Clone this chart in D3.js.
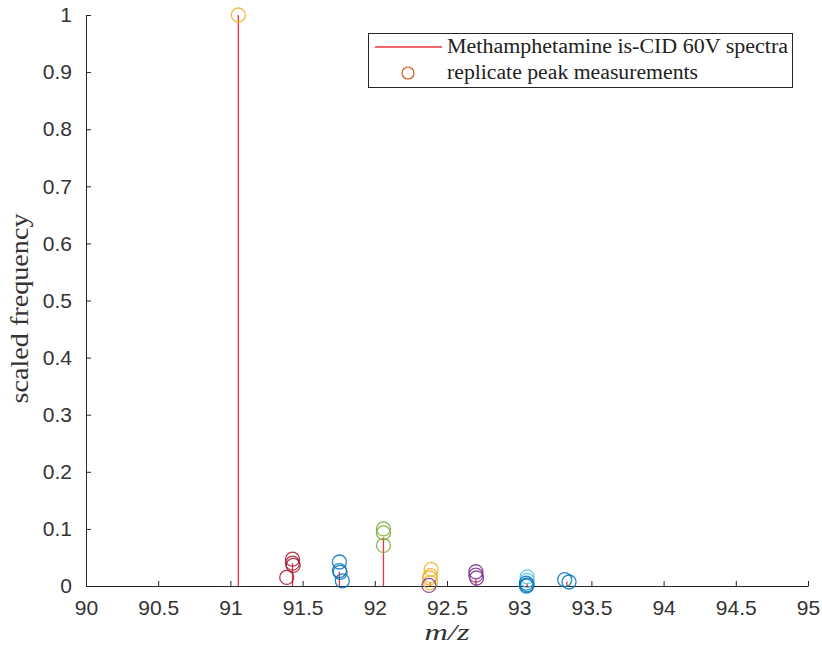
<!DOCTYPE html>
<html><head><meta charset="utf-8">
<script src="https://cdn.jsdelivr.net/npm/d3@7"></script>
<style>body{margin:0;background:#fff}svg{display:block}</style>
</head><body>
<script>
// Stem spectrum peaks
const peakMz = [91.055, 91.43, 91.755, 92.06, 92.385, 92.70, 93.055, 93.33];
const peakIntensity = [1.0, 0.04, 0.025, 0.085, 0.006, 0.012, 0.005, 0.008];

// Replicate measurements
const repMz = [91.055,
  91.43, 91.43, 91.435, 91.39,
  91.755, 91.755, 91.76, 91.775,
  92.06, 92.06, 92.06,
  92.39, 92.385, 92.38, 92.385, 92.375,
  92.70, 92.70, 92.705,
  93.055, 93.055, 93.05, 93.055, 93.05,
  93.315, 93.345];
const repIntensity = [1.0,
  0.047, 0.040, 0.036, 0.015,
  0.042, 0.027, 0.024, 0.009,
  0.100, 0.093, 0.071,
  0.029, 0.018, 0.014, 0.006, 0.001,
  0.025, 0.019, 0.014,
  0.016, 0.010, 0.005, 0.002, 0.0,
  0.011, 0.007];
const repColor = ["#EDB120",
  "#A2142F", "#A2142F", "#A2142F", "#A2142F",
  "#0072BD", "#0072BD", "#0072BD", "#0072BD",
  "#77AC30", "#77AC30", "#77AC30",
  "#EDB120", "#EDB120", "#EDB120", "#EDB120", "#7E2F8E",
  "#7E2F8E", "#7E2F8E", "#7E2F8E",
  "#4DBEEE", "#4DBEEE", "#0072BD", "#0072BD", "#0072BD",
  "#0072BD", "#0072BD"];

const xTicks = [90, 90.5, 91, 91.5, 92, 92.5, 93, 93.5, 94, 94.5, 95];
const yTicks = [0, 0.1, 0.2, 0.3, 0.4, 0.5, 0.6, 0.7, 0.8, 0.9, 1];
const legendLabels = ["Methamphetamine is-CID 60V spectra", "replicate peak measurements"];

const W = 822, H = 648;
const m = {left: 86, right: 14, top: 15, bottom: 62};
const svg = d3.select("body").append("svg").attr("width", W).attr("height", H);

const x = d3.scaleLinear().domain([90, 95]).range([m.left, W - m.right]);
const y = d3.scaleLinear().domain([0, 1]).range([H - m.bottom, m.top]);

const axisColor = "#262626";
const tickFont = "'Liberation Sans', Arial, sans-serif";

// Stems
svg.append("g").selectAll("line").data(peakMz).join("line")
  .attr("x1", d => x(d)).attr("x2", d => x(d))
  .attr("y1", y(0)).attr("y2", (d, i) => y(peakIntensity[i]))
  .attr("stroke", "#f0323c").attr("stroke-width", 1.3);

// Axes
const xAxis = svg.append("g").attr("transform", `translate(0,${y(0)})`)
  .call(d3.axisBottom(x).tickValues(xTicks).tickSize(-5).tickSizeOuter(0).tickPadding(14).tickFormat(d3.format("")));
const yAxis = svg.append("g").attr("transform", `translate(${x(90)},0)`)
  .call(d3.axisLeft(y).tickValues(yTicks).tickSize(-5).tickSizeOuter(0).tickPadding(14).tickFormat(d3.format("")));
[xAxis, yAxis].forEach(a => {
  a.select(".domain").attr("stroke", axisColor).attr("stroke-width", 1);
  a.selectAll(".tick line").attr("stroke", axisColor);
  a.selectAll(".tick text").attr("fill", "#333").style("font-family", tickFont).style("font-size", "21px");
});

// Replicate circles
svg.append("g").selectAll("circle").data(repMz).join("circle")
  .attr("cx", d => x(d)).attr("cy", (d, i) => y(repIntensity[i]))
  .attr("r", 7).attr("fill", "none")
  .attr("stroke", (d, i) => repColor[i]).attr("stroke-width", 1.3).attr("stroke-opacity", 0.85);

// Axis labels
const serif = "'Liberation Serif', 'DejaVu Serif', serif";
svg.append("text").attr("transform", `translate(28,${(y(0)+y(1))/2 + 8}) rotate(-90)`)
  .attr("text-anchor", "middle").style("font-family", serif).style("font-size", "25px")
  .attr("fill", "#333").attr("textLength", 190).attr("lengthAdjust", "spacingAndGlyphs")
  .text("scaled frequency");
svg.append("text").attr("x", x(92.5)).attr("y", 640).attr("text-anchor", "middle")
  .style("font-family", serif).style("font-size", "24px").style("font-style", "italic")
  .attr("fill", "#333").attr("textLength", 45).attr("lengthAdjust", "spacingAndGlyphs").text("m/z");

// Legend
const lg = svg.append("g");
lg.append("rect").attr("x", 368.5).attr("y", 33.5).attr("width", 424).attr("height", 54)
  .attr("fill", "#fff").attr("stroke", axisColor).attr("stroke-width", 1);
lg.append("line").attr("x1", 375).attr("x2", 442).attr("y1", 47).attr("y2", 47)
  .attr("stroke", "#f0323c").attr("stroke-width", 1.3);
lg.append("circle").attr("cx", 408).attr("cy", 73).attr("r", 6).attr("fill", "none")
  .attr("stroke", "#D95319").attr("stroke-width", 1.2);
lg.selectAll("text.l").data(legendLabels).join("text")
  .attr("x", 447).attr("y", (d, i) => 53 + i * 26)
  .style("font-family", serif).style("font-size", "20px").attr("fill", "#222")
  .attr("textLength", (d, i) => i === 0 ? 341 : 251).attr("lengthAdjust", "spacingAndGlyphs")
  .text(d => d);
</script>
</body></html>
